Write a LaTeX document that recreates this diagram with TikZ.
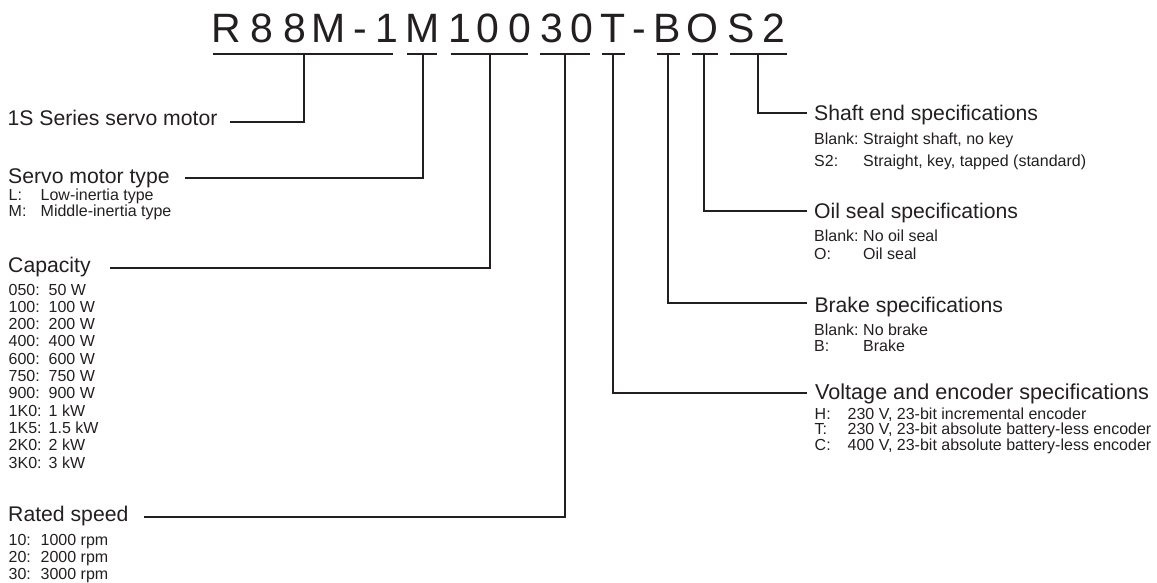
\documentclass[tikz,border=0pt]{standalone}
\usepackage{fontspec}
\setmainfont{Liberation Sans}
\definecolor{ink}{RGB}{35,31,32}
\tikzset{
  codech/.style={font=\fontsize{41}{41}\selectfont, inner sep=0pt, anchor=base, text=ink},
  head/.style={font=\fontsize{21.2}{25}\selectfont, inner sep=0pt, anchor=base west, text=ink},
  headwide/.style={head, font=\fontsize{21.6}{25}\selectfont},
  item/.style={font=\fontsize{16}{17}\selectfont, inner sep=0pt, anchor=base west, text=ink},
  conn/.style={draw=ink, line width=2pt},
}
\begin{document}
\begin{tikzpicture}[x=1pt,y=-1pt]
\useasboundingbox (0,0) rectangle (1157,582);
% model code characters
\foreach \ch/\cx [count=\i] in {R/226.7,8/261.7,8/295,M/328.3,-/360,1/386.5,M/422.5,1/459.8,0/488.3,0/520,3/551.7,0/581.7,T/613.3,-/639.2,B/667.5,O/702.5,S/740.8,2/774.2}
  \node[codech] (c\i) at (\cx,42.7) {\ch};
% underlines and stem tops
\foreach \a/\b/\s [count=\i] in {213.3/392.7/304,407.3/437.3/422.7,450.7/528.3/490,540/590/565,601.7/625/613.3,656.7/680/668.3,691.7/718.3/704,730/786.7/758}{
  \draw[conn] (\a,54) -- (\b,54);
  \coordinate (st\i) at (\s,54);
}
% connector ends
\coordinate (e1) at (230,121.7);
\coordinate (e2) at (185,178.3);
\coordinate (e3) at (110,268.3);
\coordinate (e4) at (144,517.3);
\coordinate (e5) at (807,392.7);
\coordinate (e6) at (807.3,303.3);
\coordinate (e7) at (806.7,210.7);
\coordinate (e8) at (806.7,113.3);
\foreach \i in {1,...,8} \draw[conn] (st\i) |- (e\i);
% headings
\node[head] (h1) at (7.5,125) {1S Series servo motor};
\node[head] (h2) at (8,183.3) {Servo motor type};
\node[head] (h3) at (8,272.7) {Capacity};
\node[head] (h4) at (8,521.7) {Rated speed};
\node[headwide] (h5) at (815,399) {Voltage and encoder specifications};
\node[head] (h6) at (814.3,312.7) {Brake specifications};
\node[head] (h7) at (814,218) {Oil seal specifications};
\node[head] (h8) at (814,120.7) {Shaft end specifications};
% servo motor type
\node[item] (t1) at (8.5,200) {\makebox[32pt][l]{L:}Low-inertia type};
\node[item] (t2) at (8.5,216.7) {\makebox[32pt][l]{M:}Middle-inertia type};
% capacity
\foreach \lab/\val [count=\i] in {050/50 W,100/100 W,200/200 W,400/400 W,600/600 W,750/750 W,900/900 W,1K0/1 kW,1K5/1.5 kW,2K0/2 kW,3K0/3 kW}
  \node[item] (cap\i) at (8.5,{295+17.33*(\i-1)}) {\makebox[40pt][l]{\lab:}\val};
% rated speed
\foreach \lab/\val [count=\i] in {10/1000 rpm,20/2000 rpm,30/3000 rpm}
  \node[item] (rs\i) at (8.5,{545+17.33*(\i-1)}) {\makebox[32pt][l]{\lab:}\val};
% shaft end
\node[item] (sh1) at (814,144) {\makebox[49pt][l]{Blank:}Straight shaft, no key};
\node[item] (sh2) at (814,166) {\makebox[49pt][l]{S2:}Straight, key, tapped (standard)};
% oil seal
\node[item] (os1) at (814,241.7) {\makebox[49pt][l]{Blank:}No oil seal};
\node[item] (os2) at (814,259) {\makebox[49pt][l]{O:}Oil seal};
% brake
\node[item] (br1) at (814,335) {\makebox[49pt][l]{Blank:}No brake};
\node[item] (br2) at (814,351.7) {\makebox[49pt][l]{B:}Brake};
% voltage and encoder
\node[item] (ve1) at (814.5,419.5) {\makebox[33pt][l]{H:}230 V, 23-bit incremental encoder};
\node[item] (ve2) at (814.5,434.8) {\makebox[33pt][l]{T:}230 V, 23-bit absolute battery-less encoder};
\node[item] (ve3) at (814.5,450.1) {\makebox[33pt][l]{C:}400 V, 23-bit absolute battery-less encoder};
\end{tikzpicture}
\end{document}
